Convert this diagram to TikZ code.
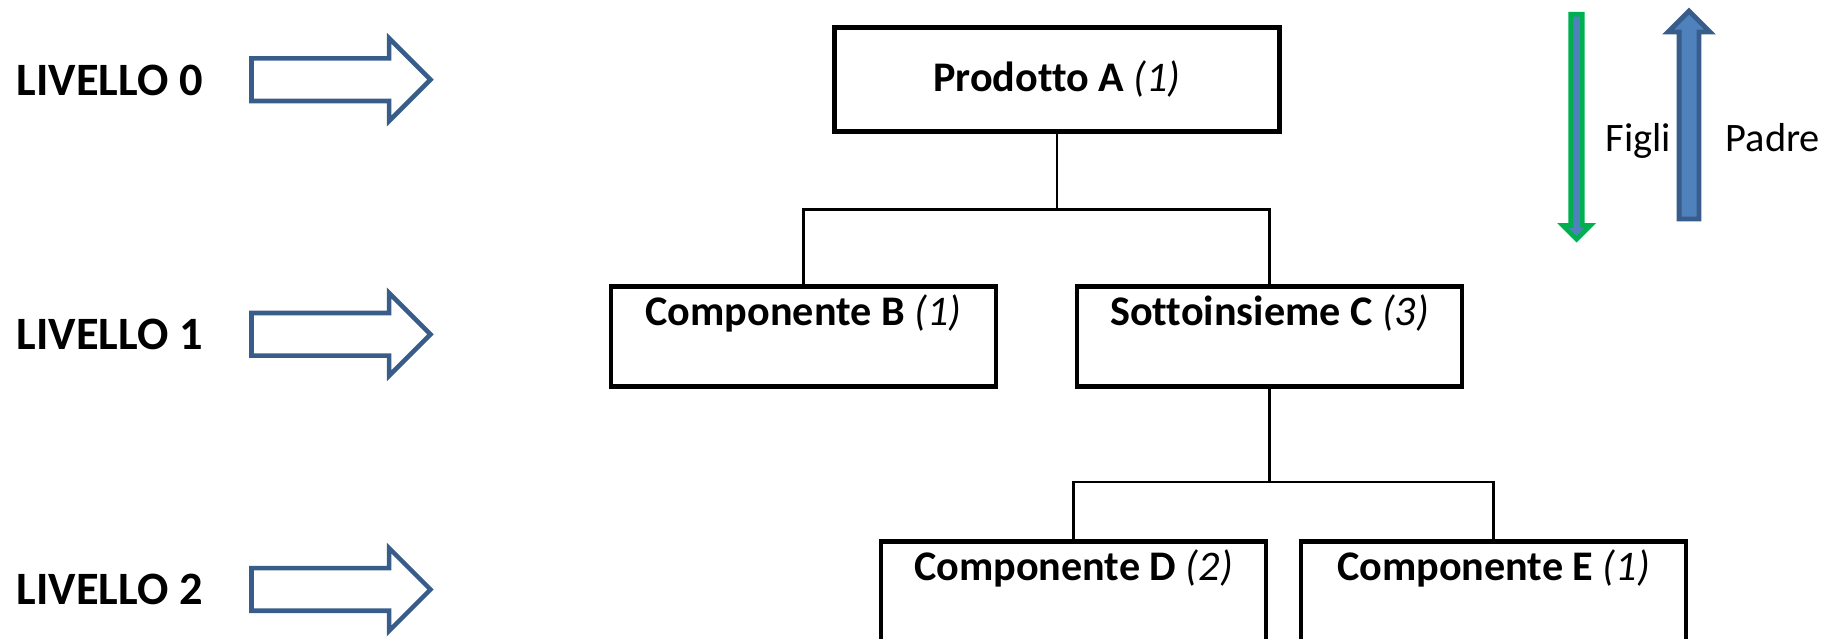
\documentclass[tikz,border=0pt]{standalone}
\usepackage{fontspec}
\setmainfont{Carlito}[Ligatures=NoCommon]
\usepackage{tikz}
\usetikzlibrary{shapes.arrows, positioning}
\usepackage{xcolor}
\definecolor{lvlblue}{RGB}{56,93,138}
\definecolor{arrblue}{RGB}{79,129,189}
\definecolor{figligreen}{RGB}{0,176,80}
\newcommand{\qtn}[1]{\textmd{\textit{(#1)}}}

\begin{document}
\begin{tikzpicture}[
		boxbase/.style={draw, line width=1.4pt, inner sep=0pt, font=\fontsize{12}{14}\selectfont\bfseries},
		rootbox/.style={boxbase, minimum width=4.45cm, minimum height=1.04cm},
		partbox/.style={boxbase, anchor=north, minimum width=3.85cm, text height=0.385cm, text depth=0.615cm},
		lvlarrow/.style={single arrow, draw=lvlblue, line width=1.3pt, inner sep=0.19cm, single arrow head extend=0.2cm, minimum height=1.79cm, anchor=tail},
		lvltext/.style={anchor=base west, inner sep=0pt, font=\fontsize{13.2}{15}\selectfont\bfseries},
		sidetext/.style={anchor=base west, inner sep=0pt, font=\fontsize{11.5}{14}\selectfont},
		link/.style={line width=0.6pt}]
		\useasboundingbox (0,0) rectangle (18.31,-6.39);
		\draw (0.16cm,-0.96cm) node[lvltext] (lvl0){LIVELLO 0}
		(0.16cm,-3.50cm) node[lvltext] (lvl1){LIVELLO 1}
		(0.16cm,-6.05cm) node[lvltext] (lvl2){LIVELLO 2}
		(2.492cm,-0.797cm) node[lvlarrow] (lvl0arr){}
		(2.492cm,-3.343cm) node[lvlarrow] (lvl1arr){}
		(2.492cm,-5.895cm) node[lvlarrow] (lvl2arr){};
		
		\draw (10.57cm,-0.795cm) node[rootbox] (prodA){Prodotto A \qtn{1}}
		(8.035cm,-2.845cm) node[partbox] (compB){Componente B \qtn{1}}
		(12.695cm,-2.845cm) node[partbox] (sottC){Sottoinsieme C \qtn{3}}
		(10.735cm,-5.395cm) node[partbox, text depth=1.2cm] (compD){Componente D \qtn{2}}
		(14.935cm,-5.395cm) node[partbox, text depth=1.2cm] (compE){Componente E \qtn{1}};
		
		\draw[link] (prodA.south) -- ++(0,-0.755) coordinate (busA);
		\draw[link] (compB.north) |- (busA) -| (sottC.north);
		\draw[link] (sottC.south) -- ++(0,-0.925) coordinate (busC);
		\draw[link] (compD.north) |- (busC) -| (compE.north);
		
		\draw (15.765cm,-0.12cm) node[single arrow, rotate=-90, anchor=tail, fill=arrblue, draw=figligreen, line width=1.3pt, inner sep=0.035cm, single arrow head extend=0.08cm, minimum height=2.25cm] (figliarr){}
		(16.89cm,-2.215cm) node[single arrow, rotate=90, anchor=tail, fill=arrblue, draw=lvlblue, line width=1.4pt, inner sep=0.075cm, single arrow head extend=0.11cm, minimum height=2.08cm] (padrearr){}
		(16.05cm,-1.52cm) node[sidetext] (figli){Figli}
		(17.25cm,-1.52cm) node[sidetext] (padre){Padre};
	\end{tikzpicture}
\end{document}
